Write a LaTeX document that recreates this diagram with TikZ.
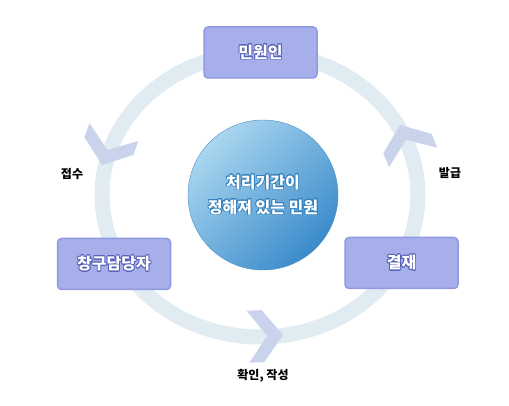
\documentclass[tikz,border=0pt]{standalone}
\usepackage{fontspec}
\setmainfont{Noto Sans CJK KR}
\usepackage{contour}
\contourlength{0.8pt}

\definecolor{ringcol}{HTML}{E0EBF2}
\definecolor{boxfill}{HTML}{A6AFE9}
\definecolor{boxline}{HTML}{9099E1}
\definecolor{boxtext}{HTML}{5560B8}
\definecolor{headcol}{HTML}{C9D4EC}
\definecolor{disclight}{HTML}{AAD6EF}
\definecolor{discdark}{HTML}{3A8BCB}
\definecolor{discline}{HTML}{4A8FC6}
\definecolor{disctext}{HTML}{3480BE}

\begin{document}
\begin{tikzpicture}
        [x=1pt,y=1pt,%%%%%%%%%%%%%%%%%%%%%%%%%%%%%%
        stage/.style={rectangle,rounded corners=4pt,fill=boxfill,draw=boxline,line width=1.5pt,
          minimum width=113pt,minimum height=51pt,text=white,font=\fontsize{16}{18}\selectfont\bfseries},
        disc/.style={circle,minimum size=150pt,inner sep=0pt,draw=discline,
          top color=disclight,bottom color=discdark,shading angle=45,
          text=white,align=center,font=\fontsize{16}{25}\selectfont\bfseries},
        steptext/.style={text=black,font=\fontsize{12}{14}\selectfont\bfseries},
        headshape/.style={fill=headcol},
        ]%%%%%%%%%%%%%%%%%%%%%%%%%%%%%%

        \useasboundingbox (0,0) rectangle (509,406);

        \draw[ringcol,line width=15pt] (260,211) ellipse [x radius=158pt,y radius=142pt];

        \foreach \px/\py/\ang in {102/241/250, 283/71/3, 400/281/112}
          \fill[headshape,shift={(\px,\py)},rotate=\ang]
            (0,0) -- (-20,26) -- (-35,26) -- (-16,0) -- (-35,-26) -- (-20,-26) -- cycle;

        \node[disc] (core) at (263,211) {\contour{disctext}{처리기간이}\\\contour{disctext}{정해져 있는 민원}};

        \node[stage] (civil) at (260.5,353.5) {\contour{boxtext}{민원인}};
        \node[stage] (window) at (114,142) {\contour{boxtext}{창구담당자}};
        \node[stage] (approve) at (401.5,143) {\contour{boxtext}{결재}};

        \node[steptext] (receive) at (72,232) {접수};
        \node[steptext] (issue) at (450,233) {발급};
        \node[steptext] (check) at (263,30) {확인, 작성};

      \end{tikzpicture}
\end{document}
